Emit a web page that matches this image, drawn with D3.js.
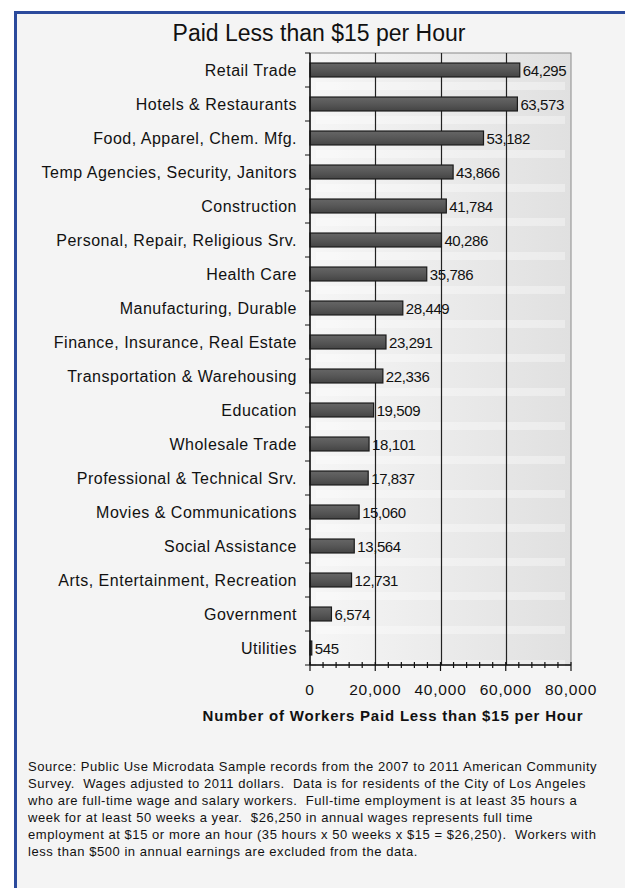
<!DOCTYPE html>
<html><head><meta charset="utf-8">
<script src="https://cdn.jsdelivr.net/npm/d3@7"></script>
<style>html,body{margin:0;padding:0;background:#fff;}svg{display:block;font-family:Arial,"Liberation Sans",sans-serif;}</style>
</head><body>
<script>
const categories = ["Retail Trade","Hotels & Restaurants","Food, Apparel, Chem. Mfg.","Temp Agencies, Security, Janitors","Construction","Personal, Repair, Religious Srv.","Health Care","Manufacturing, Durable","Finance, Insurance, Real Estate","Transportation & Warehousing","Education","Wholesale Trade","Professional & Technical Srv.","Movies & Communications","Social Assistance","Arts, Entertainment, Recreation","Government","Utilities"];
const values = [64295,63573,53182,43866,41784,40286,35786,28449,23291,22336,19509,18101,17837,15060,13564,12731,6574,545];
const xTicks = [0,20000,40000,60000,80000];
const title = "Paid Less than $15 per Hour";
const xTitle = "Number of Workers Paid Less than $15 per Hour";
const sourceLines = [
 "Source: Public Use Microdata Sample records from the 2007 to 2011 American Community",
 "Survey.  Wages adjusted to 2011 dollars.  Data is for residents of the City of Los Angeles",
 "who are full-time wage and salary workers.  Full-time employment is at least 35 hours a",
 "week for at least 50 weeks a year.  $26,250 in annual wages represents full time",
 "employment at $15 or more an hour (35 hours x 50 weeks x $15 = $26,250).  Workers with",
 "less than $500 in annual earnings are excluded from the data."
];

const W=625,H=888;
const svg=d3.select("body").append("svg").attr("width",W).attr("height",H);
const defs=svg.append("defs");
const g1=defs.append("linearGradient").attr("id","plotbg").attr("x1","0").attr("x2","1").attr("y1","0").attr("y2","0");
g1.append("stop").attr("offset","0").attr("stop-color","#f6f6f6");
g1.append("stop").attr("offset","1").attr("stop-color","#e0e0e0");
const g2=defs.append("linearGradient").attr("id","barg").attr("x1","0").attr("x2","0").attr("y1","0").attr("y2","1");
g2.append("stop").attr("offset","0").attr("stop-color","#666");
g2.append("stop").attr("offset","0.5").attr("stop-color","#575757");
g2.append("stop").attr("offset","1").attr("stop-color","#444");

// frame
svg.append("rect").attr("x",14).attr("y",11).attr("width",W-14).attr("height",H-11).attr("fill","#f4f4f4");
svg.append("line").attr("x1",14).attr("x2",W).attr("y1",12.5).attr("y2",12.5).attr("stroke","#2b4a9c").attr("stroke-width",3);
svg.append("line").attr("x1",15.5).attr("x2",15.5).attr("y1",11).attr("y2",H).attr("stroke","#2b4a9c").attr("stroke-width",3);

svg.append("text").attr("x",319).attr("y",41).attr("text-anchor","middle").attr("font-size",23).attr("fill","#111").text(title);

const L=310,R=571,T=53,B=665;
const x=d3.scaleLinear().domain([0,80000]).range([L,R]);
const y=d3.scaleBand().domain(categories).range([T,B]).paddingInner(0.59).paddingOuter(0.295);

svg.append("rect").attr("x",L).attr("y",T).attr("width",R-L).attr("height",B-T).attr("fill","url(#plotbg)").attr("stroke","#8a8a8a").attr("stroke-width",1);
// light stripes between bars
const band=(B-T)/categories.length;
svg.append("g").selectAll("rect").data(categories).join("rect")
  .attr("x",L+6).attr("width",R-L-12)
  .attr("y",d=>y(d)+y.bandwidth()+5).attr("height",8)
  .attr("fill","#ffffff").attr("opacity",0.35);

// gridlines
svg.append("g").selectAll("line").data(xTicks.filter(d=>d>0&&d<80000)).join("line")
  .attr("x1",d=>Math.round(x(d))+0.5).attr("x2",d=>Math.round(x(d))+0.5).attr("y1",T).attr("y2",B)
  .attr("stroke","#222").attr("stroke-width",1.2);

// bars
svg.append("g").selectAll("rect").data(values).join("rect")
  .attr("x",L).attr("y",(d,i)=>y(categories[i]))
  .attr("width",d=>x(d)-L).attr("height",y.bandwidth())
  .attr("fill","url(#barg)").attr("stroke","#1a1a1a").attr("stroke-width",1.2);

// value labels
svg.append("g").selectAll("text").data(values).join("text")
  .attr("x",d=>x(d)+3).attr("y",(d,i)=>y(categories[i])+y.bandwidth()/2+5.5)
  .attr("font-size",15).attr("letter-spacing",-0.4).attr("fill","#111").text(d=>d3.format(",")(d));

// y axis
const ya=svg.append("g");
ya.append("line").attr("x1",L).attr("x2",L).attr("y1",T).attr("y2",B).attr("stroke","#111").attr("stroke-width",1.5);
const bounds=d3.range(categories.length+1).map(i=>T+i*band);
ya.selectAll("line.t").data(bounds).join("line").attr("class","t")
  .attr("x1",L-5).attr("x2",L).attr("y1",d=>d).attr("y2",d=>d).attr("stroke","#111");
ya.selectAll("text").data(categories).join("text")
  .attr("x",297).attr("y",d=>y(d)+y.bandwidth()/2+5.5).attr("text-anchor","end")
  .attr("font-size",16).attr("letter-spacing",0.5).attr("fill","#111").text(d=>d);

// x axis
const xa=svg.append("g");
xa.append("line").attr("x1",L).attr("x2",R).attr("y1",B).attr("y2",B).attr("stroke","#111").attr("stroke-width",1.5);
const minor=d3.range(0,80001,4000);
xa.selectAll("line.m").data(minor).join("line").attr("class","m")
  .attr("x1",d=>x(d)).attr("x2",d=>x(d)).attr("y1",B-3).attr("y2",d=>d%20000===0?B+6:B+3)
  .attr("stroke","#111").attr("stroke-width",1.2);
xa.selectAll("text").data(xTicks).join("text")
  .attr("x",d=>x(d)).attr("y",695).attr("text-anchor","middle").attr("font-size",15.5).attr("letter-spacing",0.8).attr("fill","#111")
  .text(d=>d3.format(",")(d));
svg.append("text").attr("x",393).attr("y",721).attr("text-anchor","middle").attr("font-size",15).attr("letter-spacing",0.8).attr("font-weight","bold").attr("fill","#111").text(xTitle);

// source
svg.append("g").selectAll("text").data(sourceLines).join("text")
  .attr("x",28).attr("y",(d,i)=>771+i*17).attr("font-size",13).attr("letter-spacing",0.55).attr("fill","#111")
  .attr("xml:space","preserve").style("white-space","pre").text(d=>d);
</script>
</body></html>
